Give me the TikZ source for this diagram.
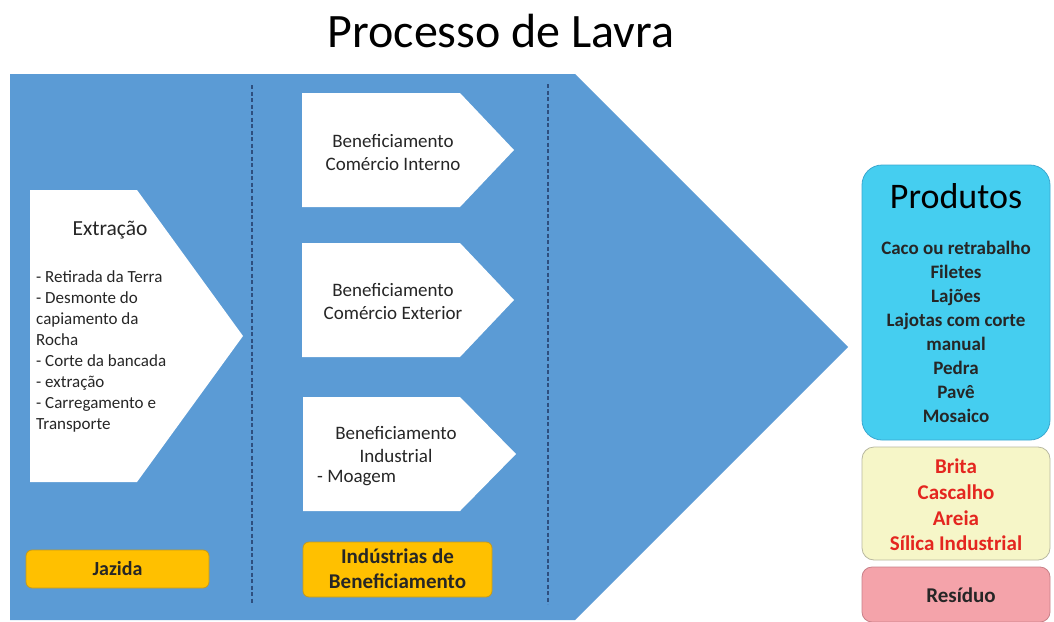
\documentclass[tikz,border=0pt]{standalone}
\usepackage{fontspec}
\setmainfont{Carlito}
\definecolor{arrowblue}{HTML}{5B9BD5}
\definecolor{dashblue}{HTML}{2E4F7F}
\definecolor{gold}{HTML}{FFC000}
\definecolor{goldline}{HTML}{C59A1A}
\definecolor{cyanbox}{HTML}{45CEF0}
\definecolor{cyanline}{HTML}{3AA8D0}
\definecolor{paleyellow}{HTML}{F6F6C8}
\definecolor{paleline}{HTML}{B8B8A0}
\definecolor{pinkbox}{HTML}{F4A3AA}
\definecolor{pinkline}{HTML}{C88088}
\definecolor{textgray}{HTML}{262626}
\definecolor{redtext}{HTML}{E4261F}
\tikzset{
  whitepent/.style={fill=white, draw=none},
  divider/.style={dashed, dashblue, line width=1.2pt, dash pattern=on 4pt off 2.5pt},
  label/.style={fill=gold, draw=goldline, line width=0.8pt, rounded corners=6pt},
  bodytext/.style={font=\fontsize{17}{21}\selectfont, text=textgray, align=left, inner sep=0pt},
  bentext/.style={font=\fontsize{19}{23}\selectfont, text=textgray, align=center, inner sep=0pt},
  labeltext/.style={font=\fontsize{21}{25}\selectfont\bfseries, text=textgray, align=center, inner sep=0pt},
  prodtext/.style={font=\fontsize{19}{24.1}\selectfont\bfseries, text=textgray, align=center, inner sep=0pt},
  redlist/.style={font=\fontsize{21}{25.7}\selectfont\bfseries, text=redtext, align=center, inner sep=0pt},
}
\begin{document}
\begin{tikzpicture}[x=1pt,y=-1pt]
\useasboundingbox (0,0) rectangle (1054,621);
\fill[white] (0,0) rectangle (1054,621);
% title
\node[font=\fontsize{48}{52}\selectfont, text=black, anchor=base, inner sep=0pt] (title) at (501,47) {Processo de Lavra};
% big arrow
\fill[arrowblue] (10,74) -- (575,74) -- (848,347) -- (575,620) -- (10,620) -- cycle;
% dividers
\coordinate (d1t) at (252,85); \coordinate (d1b) at (252,604);
\coordinate (d2t) at (548,84); \coordinate (d2b) at (548,604);
\draw[divider] (d1t) -- (d1b);
\draw[divider] (d2t) -- (d2b);
% extraction pentagon
\fill[whitepent] (30,190) -- (137,190) -- (243,336) -- (137,482) -- (30,482) -- cycle;
\node[font=\fontsize{21.5}{24}\selectfont, text=textgray, anchor=base, inner sep=0pt] (extr) at (110,235) {Extração};
\node[bodytext, anchor=north west] (extrlist) at (36,270) {- Retirada da Terra\\- Desmonte do\\capiamento da\\Rocha\\- Corte da bancada\\- extração\\- Carregamento e\\Transporte};
% beneficiamento pentagons
\fill[whitepent] (302,93) -- (460,93) -- (514,150) -- (460,207) -- (302,207) -- cycle;
\node[bentext] (ben1) at (393,152) {Beneficiamento\\Comércio Interno};
\fill[whitepent] (302,243) -- (460,243) -- (514,300) -- (460,357) -- (302,357) -- cycle;
\node[bentext] (ben2) at (393,301) {Beneficiamento\\Comércio Exterior};
\fill[whitepent] (303,397) -- (460,397) -- (516,454) -- (460,511) -- (303,511) -- cycle;
\node[bentext] (ben3) at (396,444) {Beneficiamento\\Industrial};
\node[bentext, anchor=west] (moag) at (317,478) {- Moagem};
% labels
\draw[label] (26,550) rectangle (209,588);
\node[font=\fontsize{20}{24}\selectfont\bfseries, text=textgray, anchor=base, inner sep=0pt] (jaz) at (117.5,575) {Jazida};
\draw[label] (303,542) rectangle (492,597);
\node[labeltext] (ind) at (397.5,569) {Indústrias de\\Beneficiamento};
% products
\draw[fill=cyanbox, draw=cyanline, line width=0.8pt, rounded corners=20pt] (862,165) rectangle (1050,440);
\node[font=\fontsize{36}{40}\selectfont, text=black] (prodt) at (956,196) {Produtos};
\node[prodtext] (prodl) at (956,332) {Caco ou retrabalho\\Filetes\\Lajões\\Lajotas com corte\\manual\\Pedra\\Pavê\\Mosaico};
\draw[fill=paleyellow, draw=paleline, line width=0.8pt, rounded corners=12pt] (862,447) rectangle (1050,560);
\node[redlist] (sub) at (956,505) {Brita\\Cascalho\\Areia\\Sílica Industrial};
\draw[fill=pinkbox, draw=pinkline, line width=0.8pt, rounded corners=10pt] (862,567) rectangle (1050,622);
\node[font=\fontsize{21}{24}\selectfont\bfseries, text=textgray, anchor=base, inner sep=0pt] (res) at (961,602) {Resíduo};
\end{tikzpicture}
\end{document}
